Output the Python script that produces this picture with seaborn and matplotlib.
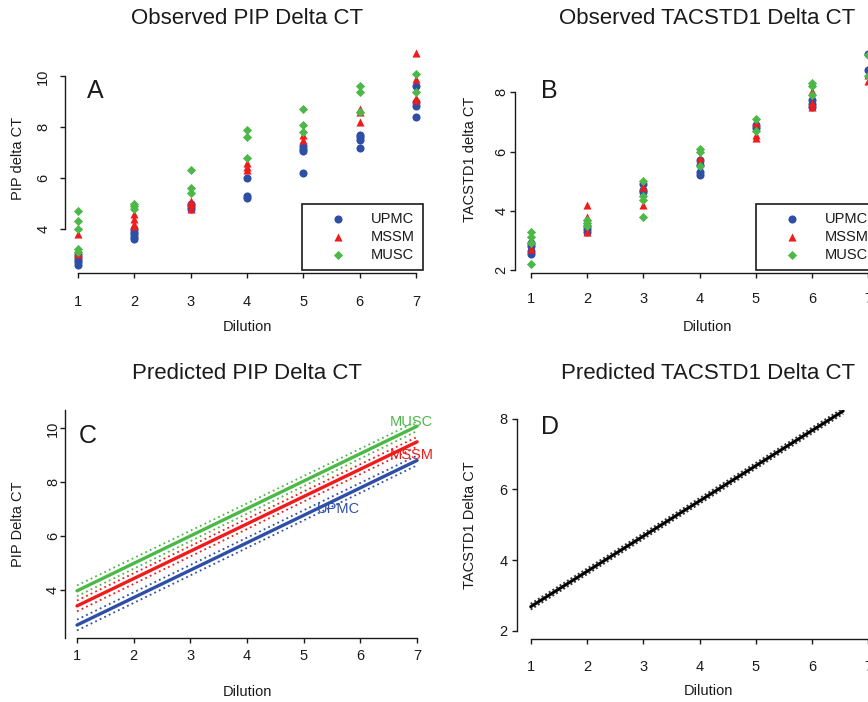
import matplotlib
matplotlib.use("Agg")
import matplotlib.pyplot as plt
import seaborn as sns
import pandas as pd

sns.set_style("ticks")
plt.rcParams['font.family'] = ['Liberation Sans', 'DejaVu Sans']
plt.rcParams['text.color'] = '#1a1a1a'
plt.rcParams['axes.labelcolor'] = '#1a1a1a'

W, H = 868, 702

sites = ["UPMC", "MSSM", "MUSC"]
site_colors = {"UPMC": "#2f4fa7", "MSSM": "#ee1c1c", "MUSC": "#4db848"}
site_markers = {"UPMC": "o", "MSSM": "^", "MUSC": "D"}
site_sizes = {"UPMC": 34, "MSSM": 34, "MUSC": 22}

dilutions = [1, 2, 3, 4, 5, 6, 7]

# observed PIP delta CT, one list per dilution
pip_obs = {
    "UPMC": [[2.6, 2.7, 2.8, 2.9, 3.0], [3.6, 3.7, 3.8, 3.9, 4.0], [4.8, 4.9, 5.0],
             [6.0, 5.3, 5.2], [7.25, 7.15, 7.05, 6.2], [7.7, 7.6, 7.5, 7.2],
             [9.6, 9.0, 8.85, 8.4]],
    "MSSM": [[3.8, 3.0, 3.1], [4.6, 4.4, 4.2, 4.1], [5.1, 5.0, 4.8],
             [6.6, 6.45, 6.3], [7.7, 7.5], [8.7, 8.6, 8.2],
             [10.9, 9.9, 9.15, 9.05]],
    "MUSC": [[4.7, 4.3, 4.0, 3.2, 3.1], [5.0, 4.9, 4.8], [6.3, 5.6, 5.4],
             [7.9, 7.6, 6.8], [8.7, 8.1, 7.8], [9.6, 9.4, 8.6],
             [10.1, 9.4]],
}

# observed TACSTD1 delta CT, one list per dilution
tac_obs = {
    "UPMC": [[2.55, 2.65, 2.8, 2.9], [3.3, 3.4, 3.5], [4.9, 4.7, 4.65],
             [5.7, 5.55, 5.3, 5.2], [6.9, 6.8], [7.75, 7.6, 7.5],
             [9.3, 8.75]],
    "MSSM": [[3.0, 2.7], [4.2, 3.8, 3.3], [4.8, 4.2],
             [5.8], [6.95, 6.55, 6.45], [8.05, 7.65, 7.5],
             [8.6, 8.4]],
    "MUSC": [[3.3, 3.1, 2.9, 2.2], [3.7, 3.6, 3.5], [5.0, 4.5, 4.35, 3.8],
             [6.1, 6.0, 5.5], [7.1, 6.7], [8.3, 8.2, 7.9],
             [9.25, 8.55]],
}

# predicted lines (end points) with dotted bands
pip_fit_x = [1, 7]
pip_fit = {"UPMC": [2.70, 8.81], "MSSM": [3.41, 9.50], "MUSC": [3.97, 10.08]}
pip_fit_lo = {"UPMC": [2.50, 8.63], "MSSM": [3.21, 9.32], "MUSC": [3.77, 9.90]}
pip_fit_hi = {"UPMC": [2.90, 8.99], "MSSM": [3.61, 9.68], "MUSC": [4.17, 10.26]}
pip_fit_text = {"UPMC": (5.62, 7.01), "MSSM": (6.9, 9.01), "MUSC": (6.9, 10.22)}

tac_fit_x = [1, 6.55]
tac_fit = [2.68, 8.22]
tac_fit_lo = [2.60, 8.14]
tac_fit_hi = [2.76, 8.30]


def long_frame(obs):
    rows = []
    for site in sites:
        for d, vals in zip(dilutions, obs[site]):
            for v in vals:
                rows.append({"Site": site, "Dilution": d, "value": v})
    return pd.DataFrame(rows)


def px_axes(l, t, r, b):
    return fig.add_axes([l / W, 1 - b / H, (r - l) / W, (b - t) / H])


def r_style(ax, xlim, ylim, ybounds, yticks, xpad, ypad, yrot=True):
    ax.set_xlim(*xlim)
    ax.set_ylim(*ylim)
    sns.despine(ax=ax)
    ax.spines['left'].set_bounds(*ybounds)
    ax.spines['bottom'].set_bounds(1, 7)
    for s in ['left', 'bottom']:
        ax.spines[s].set_linewidth(1.0)
        ax.spines[s].set_color('#1a1a1a')
    ax.set_xticks(dilutions)
    ax.set_yticks(yticks)
    ax.tick_params(direction='out', length=3.6, width=1.0, color='#1a1a1a',
                   labelsize=10.5, labelcolor='#1a1a1a')
    ax.tick_params(axis='x', pad=xpad)
    ax.tick_params(axis='y', pad=ypad)
    if yrot:
        for lab in ax.get_yticklabels():
            lab.set_rotation(90)
            lab.set_va('center')
    ax.grid(False)


def panel_text(ax, title, ty, letter, lx, ly, xlabel, xly, ylabel, ylx):
    ax.set_title(title, fontsize=16, y=ty, va='center', pad=0)
    ax.text(lx, ly, letter, transform=ax.transAxes, fontsize=18,
            ha='left', va='baseline')
    ax.set_xlabel(xlabel, fontsize=10.5)
    ax.set_ylabel(ylabel, fontsize=10.5)
    ax.xaxis.set_label_coords(0.5, xly)
    ax.xaxis.label.set_va('center')
    ax.yaxis.set_label_coords(ylx, 0.5)
    ax.yaxis.label.set_va('center')


def scatter_panel(ax, df, anchor_x):
    for site in sites:
        sub = df[df.Site == site]
        sns.scatterplot(data=sub, x="Dilution", y="value", marker=site_markers[site],
                        color=site_colors[site], s=site_sizes[site], linewidth=0,
                        ax=ax, label=site)
    leg = ax.legend(loc="lower right", bbox_to_anchor=(anchor_x, 0.013), frameon=True,
                    fancybox=False, edgecolor="#1a1a1a", framealpha=1, borderpad=0.55,
                    handlelength=3.8, handletextpad=0.36, labelspacing=0.28,
                    fontsize=10.5, borderaxespad=0)
    leg.get_frame().set_linewidth(1.2)


fig = plt.figure(figsize=(W / 100, H / 100), dpi=100)

# A: observed PIP
axA = px_axes(65, 44, 429.5, 273)
scatter_panel(axA, long_frame(pip_obs), 0.982)
r_style(axA, (0.769, 7.24), (2.27, 11.27), (4, 10), [4, 6, 8, 10], 12, 7)
panel_text(axA, "Observed PIP Delta CT", 1.111, "A", 0.06, 0.764,
           "Dilution", -0.236, "PIP delta CT", -0.129)

# B: observed TACSTD1
axB = px_axes(515, 45, 900, 273)
scatter_panel(axB, long_frame(tac_obs), 0.94)
r_style(axB, (0.72, 7.56), (1.9, 9.6), (2, 8), [2, 4, 6, 8], 10, 1)
panel_text(axB, "Observed TACSTD1 Delta CT", 1.116, "B", 0.067, 0.769,
           "Dilution", -0.237, "TACSTD1 delta CT", -0.117)

# C: predicted PIP
axC = px_axes(65, 410, 429, 638)
for site in sites:
    c = site_colors[site]
    sns.lineplot(x=pip_fit_x, y=pip_fit_lo[site], color=c, lw=1.3,
                 linestyle=(0, (1, 1.8)), ax=axC)
    sns.lineplot(x=pip_fit_x, y=pip_fit_hi[site], color=c, lw=1.3,
                 linestyle=(0, (1, 1.8)), ax=axC)
    sns.lineplot(x=pip_fit_x, y=pip_fit[site], color=c, lw=2.4, ax=axC)
    tx, ty = pip_fit_text[site]
    axC.text(tx, ty, site, color=c, fontsize=10.5, ha='center', va='center')
r_style(axC, (0.788, 7.21), (2.22, 10.68), (2.22, 10.68), [4, 6, 8, 10], 4.3, 0)
panel_text(axC, "Predicted PIP Delta CT", 1.162, "C", 0.038, 0.855,
           "Dilution", -0.239, "PIP Delta CT", -0.130)

# D: predicted TACSTD1
axD = px_axes(516.7, 410, 900, 639.3)
sns.lineplot(x=tac_fit_x, y=tac_fit_lo, color='#333333', lw=1.4,
             linestyle=(0, (1, 1.2)), ax=axD)
sns.lineplot(x=tac_fit_x, y=tac_fit_hi, color='#333333', lw=1.4,
             linestyle=(0, (1, 1.2)), ax=axD)
sns.lineplot(x=tac_fit_x, y=tac_fit, color='black', lw=2.2, ax=axD)
r_style(axD, (0.751, 7.56), (1.756, 8.25), (2, 8), [2, 4, 6, 8], 11, 3, yrot=False)
panel_text(axD, "Predicted TACSTD1 Delta CT", 1.161, "D", 0.063, 0.894,
           "Dilution", -0.2255, "TACSTD1 Delta CT", -0.122)

fig.savefig("out.png", dpi=100)
